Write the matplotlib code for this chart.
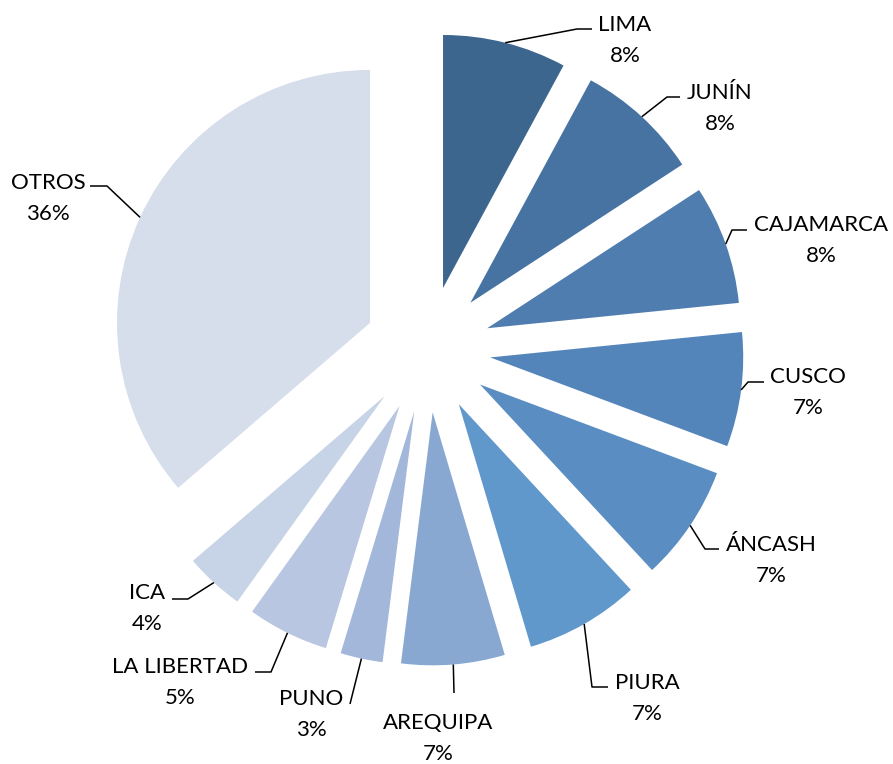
import matplotlib
matplotlib.use("Agg")
import matplotlib.pyplot as plt
import numpy as np

regions = ["LIMA", "JUNÍN", "CAJAMARCA", "CUSCO", "ÁNCASH", "PIURA",
           "AREQUIPA", "PUNO", "LA LIBERTAD", "ICA", "OTROS"]
shares = [7.9, 7.9, 7.6, 7.3, 7.4, 7.3, 6.6, 2.7, 5.2, 3.8, 36.3]
colors = ["#3D668F", "#4773A2", "#4F7DB0", "#5385BA", "#5A8EC2", "#6198CC",
          "#88A8D2", "#A3B7DA", "#B8C6E1", "#C7D3E6", "#D6DEEC"]

W, H = 893, 764
CX, CY, R = 427.5, 349.3, 253
EXPLODE = 0.25

def px(x, y):
    return ((x - CX) / R, (CY - y) / R)

# label layout in pixels: (text center x, first-line center y, elbow point, end point)
layout = {
    "LIMA":        (625, 25,  (577, 29),  (592, 29)),
    "JUNÍN":       (720, 93,  (667, 97),  (680, 97)),
    "CAJAMARCA":   (821, 225, (732, 230), (747, 230)),
    "CUSCO":       (808, 377, (748, 382), (764, 382)),
    "ÁNCASH":      (771, 545, (705, 549), (719, 549)),
    "PIURA":       (647, 683, (592, 687), (608, 687)),
    "AREQUIPA":    (438, 723, (454, 693), (454, 693)),
    "PUNO":        (311, 699, (350, 704), (350, 704)),
    "LA LIBERTAD": (180, 667, (271, 672), (255, 672)),
    "ICA":         (147, 593, (188, 599), (172, 599)),
    "OTROS":       (48, 183,  (107, 186), (90, 186)),
}

fig = plt.figure(figsize=(W / 100, H / 100), dpi=100)
ax = fig.add_axes([0, 0, 1, 1])
ax.axis("off")

wedges, _ = ax.pie(shares, colors=colors, startangle=90, counterclock=False,
                   explode=[EXPLODE] * len(shares), radius=1,
                   wedgeprops=dict(linewidth=0))
ax.set_xlim(-CX / R, (W - CX) / R)
ax.set_ylim(-(H - CY) / R, CY / R)
ax.set_aspect("auto")

font = ["Lato", "DejaVu Sans"]
total = sum(shares)
for w, name, val in zip(wedges, regions, shares):
    mid = np.deg2rad((w.theta1 + w.theta2) / 2)
    cx, cy = w.center
    ax0 = cx + np.cos(mid)
    ay0 = cy + np.sin(mid)
    tx, ty, elbow, end = layout[name]
    ex, ey = px(*elbow)
    fx, fy = px(*end)
    ax.plot([ax0, ex, fx], [ay0, ey, fy], color="black", lw=1.1,
            solid_capstyle="butt", zorder=3)
    x1, y1 = px(tx, ty)
    x2, y2 = px(tx, ty + 31)
    ax.text(x1, y1, name, ha="center", va="center", fontsize=16,
            family=font, color="black")
    ax.text(x2, y2, f"{round(val / total * 100)}%", ha="center", va="center",
            fontsize=16, family=font, color="black")

fig.savefig("out.png", dpi=100)
